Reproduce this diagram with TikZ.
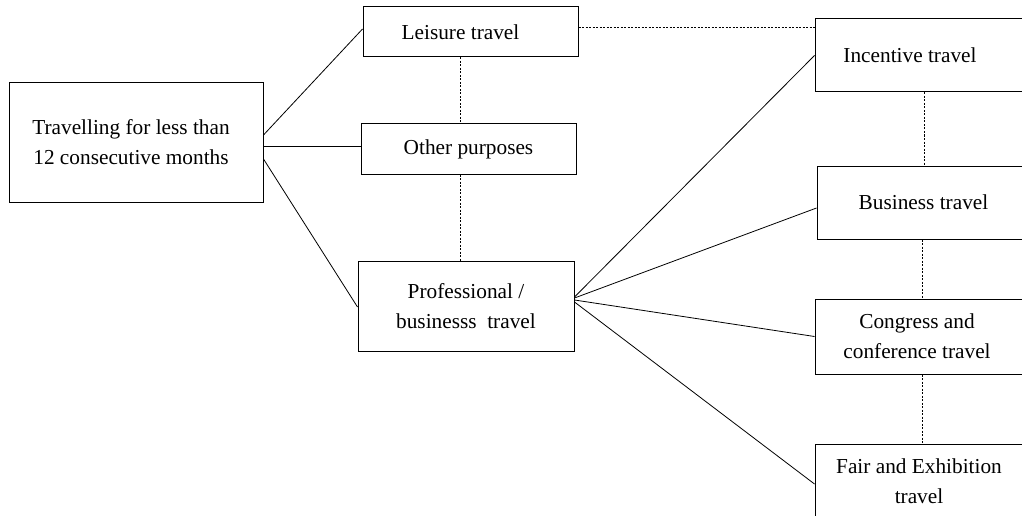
\documentclass[tikz,border=0pt]{standalone}
\usepackage{fontspec}
\setmainfont{Liberation Serif}
\begin{document}
\begin{tikzpicture}[x=1pt,y=-1pt,
  box/.style={draw, line width=1pt, rectangle, inner sep=0pt, align=center,
    font=\fontsize{21.3}{30}\selectfont},
  link/.style={line width=0.8pt},
  dots/.style={line width=1pt, dash pattern=on 2pt off 1.5pt}]
\useasboundingbox (0,0) rectangle (1022,516);
\clip (0,0) rectangle (1022,516);

% root of the classification
\node[box, minimum width=254pt, minimum height=119pt] (trip) at (136,142.5)
  {Travelling for less than\hspace*{10pt}\\12 consecutive months\hspace*{10pt}};

% purposes of travel
\node[box, minimum width=215pt, minimum height=50pt] (leisure) at (470.5,32)
  {Leisure travel\hspace*{20pt}};
\node[box, minimum width=215pt, minimum height=50pt] (other) at (468.5,149)
  {Other purposes};
\node[box, minimum width=216pt, minimum height=90pt] (prof) at (466,306)
  {Professional /\\businesss\ \ travel};

% kinds of professional travel
\node[box, minimum width=215pt, minimum height=73pt] (incentive) at (922.5,55.5)
  {Incentive travel\hspace*{25pt}};
\node[box, minimum width=213pt, minimum height=73pt] (business) at (923.5,202.5)
  {Business travel};
\node[box, minimum width=215pt, minimum height=75pt] (congress) at (922.5,336.5)
  {Congress and\hspace*{11pt}\\conference travel\hspace*{11pt}};
\node[box, minimum width=215pt, minimum height=75pt] (fair) at (922.5,481.5)
  {Fair and Exhibition\hspace*{7pt}\\travel\hspace*{7pt}};

% solid links from the root
\draw[link] ([yshift=7.5pt]trip.east) -- ([yshift=3pt]leisure.west);
\draw[link] ([yshift=-3.5pt]trip.east) -- ([yshift=3pt]other.west);
\draw[link] ([yshift=-16.5pt]trip.east) -- ([yshift=-1pt]prof.west);

% fan of links from professional travel
\draw[link] ([yshift=9pt]prof.east) -- (incentive.west);
\draw[link] ([yshift=8pt]prof.east) -- ([yshift=-5.5pt]business.west);
\draw[link] ([yshift=6pt]prof.east) -- (congress.west);
\draw[link] ([yshift=4pt]prof.east) -- ([yshift=-2.5pt]fair.west);

% dotted relations
\coordinate (dA) at (460,0);
\coordinate (dB) at (0,28);
\coordinate (dC) at (924,0);
\coordinate (dD) at (922,0);
\draw[dots] (leisure.south -| dA) -- (other.north -| dA);
\draw[dots] (other.south -| dA) -- (prof.north -| dA);
\draw[dots] (leisure.east |- dB) -- (incentive.west |- dB);
\draw[dots] (incentive.south -| dC) -- (business.north -| dC);
\draw[dots] (business.south -| dD) -- (congress.north -| dD);
\draw[dots] (congress.south -| dD) -- (fair.north -| dD);
\end{tikzpicture}
\end{document}
